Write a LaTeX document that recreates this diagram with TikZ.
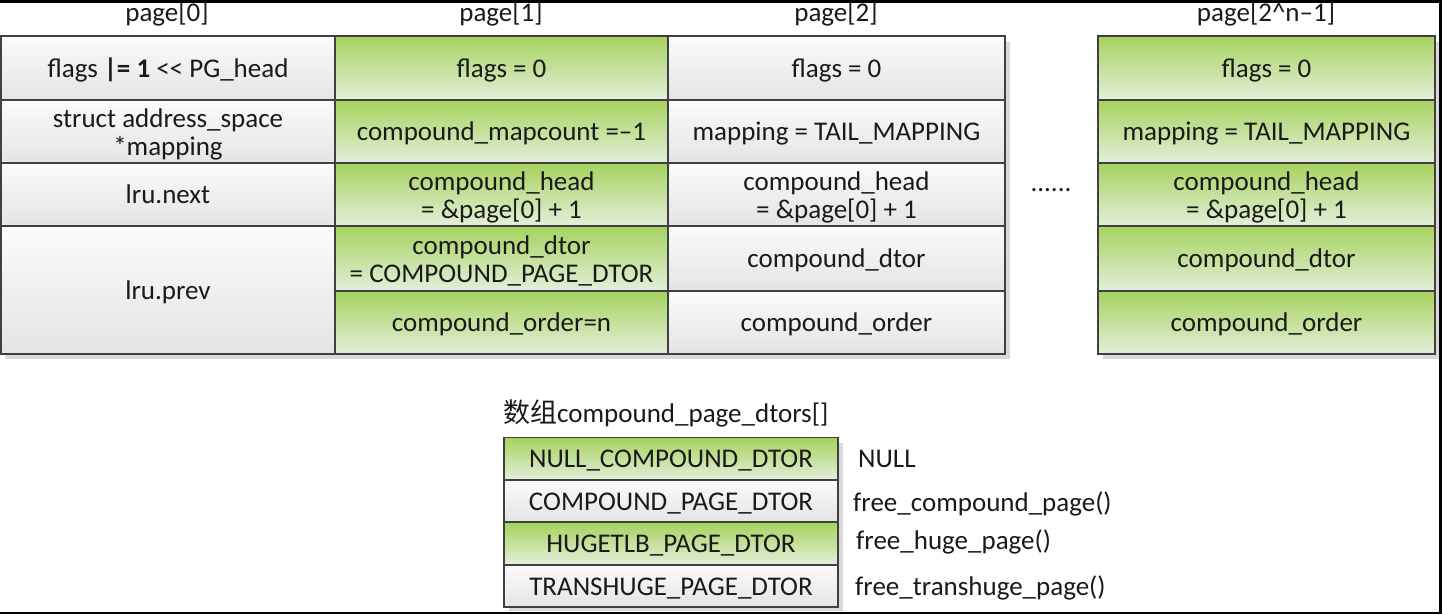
\documentclass[tikz,border=0pt]{standalone}
\usepackage{fontspec}
\setmainfont{Carlito}
\newfontfamily\cjkfont{Noto Sans CJK SC}
\definecolor{gtop}{HTML}{A6D25E}
\definecolor{gbot}{HTML}{E4EFDB}
\definecolor{wtop}{HTML}{FBFBFB}
\definecolor{wbot}{HTML}{E4E4E4}
\definecolor{cellline}{HTML}{404040}
\definecolor{shadowc}{HTML}{D9D9D9}
\definecolor{txt}{HTML}{1A1A1A}
\newcommand{\cellfont}{\fontsize{27}{28}\selectfont}
\newcommand{\twol}[2]{\vbox{\halign{\hfil##\hfil\cr\rule{0pt}{26pt}#1\cr #2\cr}}}
\tikzset{
  cell/.style={draw=cellline, line width=1.3pt, inner sep=0pt, outer sep=0pt,
    align=center, font=\cellfont, text=txt,
    execute at begin node={\rule[-7pt]{0pt}{32.4pt}},
    execute at end node={\rule[-7pt]{0pt}{7pt}}},
  gcell/.style={cell, top color=gtop, bottom color=gbot},
  wcell/.style={cell, top color=wtop, bottom color=wbot},
  hdr/.style={inner sep=0pt, font=\cellfont, text=txt},
  note/.style={inner sep=0pt, anchor=west, font=\cellfont, text=txt}
}
\begin{document}
\begin{tikzpicture}[x=1pt,y=-1pt]
\useasboundingbox (0,0) rectangle (1442,614);
% shadows
\fill[shadowc] (5,42) rectangle (1010,359);
\fill[shadowc] (1103,42) rectangle (1439,359);
\fill[shadowc] (509,443) rectangle (843,611);
% headers
\node[hdr] (h0) at (167,14) {page[0]};
\node[hdr] (h1) at (501,14) {page[1]};
\node[hdr] (h2) at (836,14) {page[2]};
\node[hdr] (h3) at (1266,14) {page[2\^{}n–1]};
% page[0]
\node[wcell, minimum width=334pt, minimum height=64pt] (p0a) at (168,68) {flags \textbf{|= 1} {<}{<} PG\_head};
\node[wcell, minimum width=334pt, minimum height=63pt] (p0b) at (168,131.5) {\twol{struct address\_space}{*mapping}};
\node[wcell, minimum width=334pt, minimum height=63pt] (p0c) at (168,194.5) {lru.next};
\node[wcell, minimum width=334pt, minimum height=128pt] (p0d) at (168,290) {lru.prev};
% page[1]
\node[gcell, minimum width=333pt, minimum height=64pt] (p1a) at (501.5,68) {flags = 0};
\node[gcell, minimum width=333pt, minimum height=63pt] (p1b) at (501.5,131.5) {compound\_mapcount =–1};
\node[gcell, minimum width=333pt, minimum height=63pt] (p1c) at (501.5,194.5) {\twol{compound\_head}{= \&page[0] + 1}};
\node[gcell, minimum width=333pt, minimum height=65pt] (p1d) at (501.5,258.5) {\twol{compound\_dtor}{= COMPOUND\_PAGE\_DTOR}};
\node[gcell, minimum width=333pt, minimum height=63pt] (p1e) at (501.5,322.5) {compound\_order=n};
% page[2]
\node[wcell, minimum width=337pt, minimum height=64pt] (p2a) at (836.5,68) {flags = 0};
\node[wcell, minimum width=337pt, minimum height=63pt] (p2b) at (836.5,131.5) {mapping = TAIL\_MAPPING};
\node[wcell, minimum width=337pt, minimum height=63pt] (p2c) at (836.5,194.5) {\twol{compound\_head}{= \&page[0] + 1}};
\node[wcell, minimum width=337pt, minimum height=65pt] (p2d) at (836.5,258.5) {compound\_dtor};
\node[wcell, minimum width=337pt, minimum height=63pt] (p2e) at (836.5,322.5) {compound\_order};
% dots
\node[hdr] (dots) at (1051,190) {......};
% page[2^n-1]
\node[gcell, minimum width=337pt, minimum height=64pt] (p3a) at (1266.5,68) {flags = 0};
\node[gcell, minimum width=337pt, minimum height=63pt] (p3b) at (1266.5,131.5) {mapping = TAIL\_MAPPING};
\node[gcell, minimum width=337pt, minimum height=63pt] (p3c) at (1266.5,194.5) {\twol{compound\_head}{= \&page[0] + 1}};
\node[gcell, minimum width=337pt, minimum height=65pt] (p3d) at (1266.5,258.5) {compound\_dtor};
\node[gcell, minimum width=337pt, minimum height=63pt] (p3e) at (1266.5,322.5) {compound\_order};
% dtors array
\node[note] (title) at (503,413) {{\cjkfont 数组}compound\_page\_dtors[]};
\node[gcell, minimum width=334pt, minimum height=42.5pt] (d0) at (671,458.75) {NULL\_COMPOUND\_DTOR};
\node[wcell, minimum width=334pt, minimum height=42pt] (d1) at (671,501) {COMPOUND\_PAGE\_DTOR};
\node[gcell, minimum width=334pt, minimum height=43pt] (d2) at (671,543.5) {HUGETLB\_PAGE\_DTOR};
\node[wcell, minimum width=334pt, minimum height=42pt] (d3) at (671,586) {TRANSHUGE\_PAGE\_DTOR};
\node[note] (f0) at (858,459) {NULL};
\node[note] (f1) at (853,504) {free\_compound\_page()};
\node[note] (f2) at (856,542) {free\_huge\_page()};
\node[note] (f3) at (855,588) {free\_transhuge\_page()};
% frame
\draw[line width=2.7pt] (0,1.35) -- (1442,1.35);
\draw[line width=2.6pt] (1440.7,0) -- (1440.7,614);
\draw[line width=2pt] (0,613) -- (1442,613);
\end{tikzpicture}
\end{document}
